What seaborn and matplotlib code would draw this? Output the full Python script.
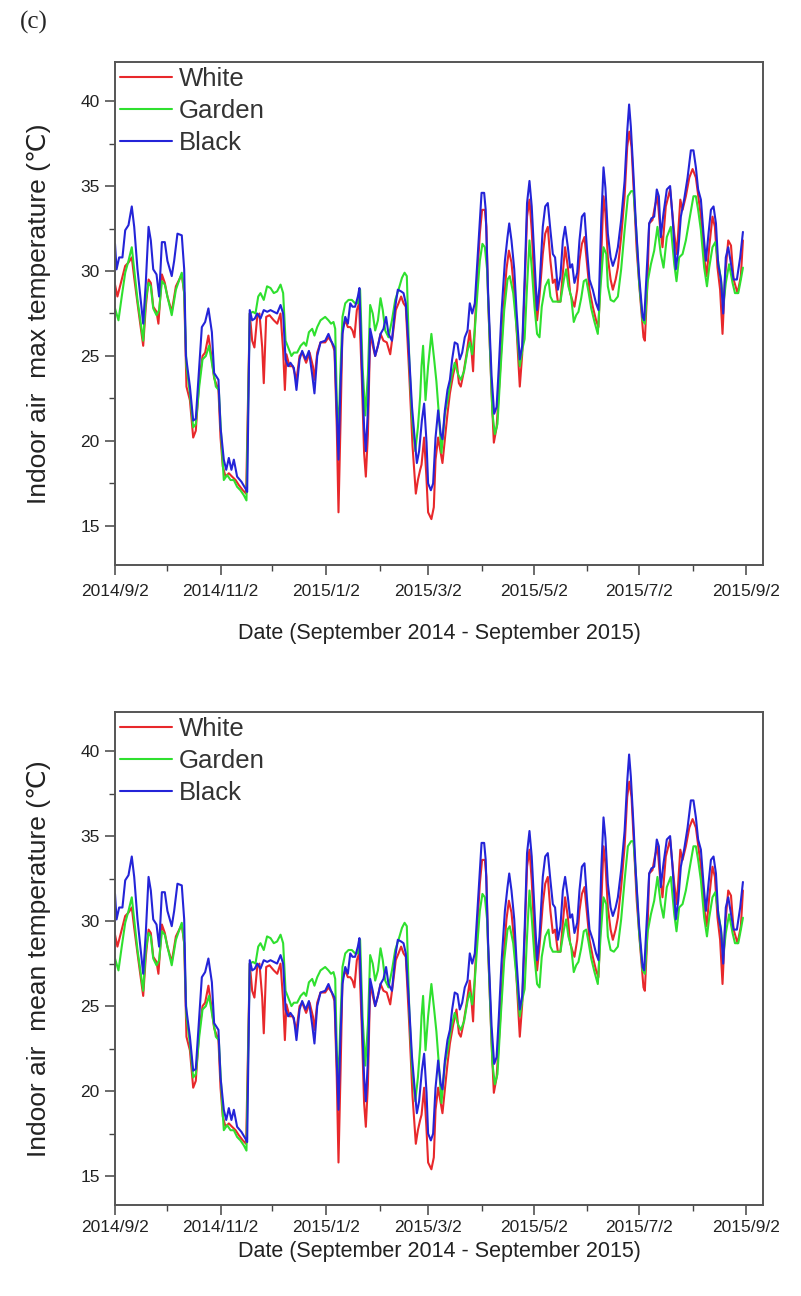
import numpy as np
import pandas as pd
import matplotlib
matplotlib.use("Agg")
import matplotlib.pyplot as plt
import seaborn as sns
from matplotlib.ticker import FixedLocator, MultipleLocator, NullFormatter

# ---------------- data ----------------
START = "2014-09-02"
series_names = ["White", "Garden", "Black"]

white_day = [0, 1.4, 3.4, 5.9, 7.8, 9.7, 11.1, 13.0, 16.3, 17.8, 19.4, 20.7, 22.1, 24.0, 25.1, 27.1, 28.8, 30.3,
             32.8, 35.2, 38.6, 40.0, 41.3, 43.3, 45.2, 46.7, 48.7, 50.6, 52.1, 54.0, 56.0, 57.3, 59.8, 61.0, 62.3,
             63.9, 65.8, 67.7, 69.7, 71.6, 73.9, 75.8, 77.9, 79.3, 80.6, 82.2, 83.5, 85.1, 86.0, 87.4, 89.3, 91.8,
             93.8, 95.7, 97.2, 98.2, 99.1, 100.9, 102.8, 104.9, 106.7, 108.2, 110.5, 112.5, 114.4, 115.3, 116.9,
             118.8, 121.5, 123.4, 125.3, 126.9, 128.2, 129.2, 130.4, 131.5, 133.1, 134.6, 136.0, 137.3, 138.4,
             139.8, 141.1, 142.7, 144.0, 145.0, 146.2, 147.5, 149.0, 150.4, 152.0, 153.5, 155.2, 157.1, 159.1,
             160.9, 162.3, 163.9, 165.4, 166.8, 168.1, 170.1, 172.0, 173.9, 175.1, 176.4, 177.2, 178.7, 180.0,
             181.0, 182.9, 184.3, 185.3, 186.8, 188.3, 189.3, 190.7, 192.2, 193.6, 195.5, 197.4, 198.8, 199.9,
             201.3, 203.2, 205.1, 206.1, 207.0, 208.0, 209.5, 210.9, 212.2, 213.8, 214.7, 215.7, 217.7, 219.0,
             220.6, 222.5, 224.4, 226.3, 227.7, 229.2, 231.2, 233.1, 234.0, 235.4, 237.0, 238.2, 239.6, 240.9,
             242.5, 244.0, 245.4, 247.3, 248.7, 250.2, 251.7, 253.1, 254.4, 256.0, 257.5, 258.9, 260.2, 261.8,
             263.1, 264.3, 265.6, 267.2, 268.5, 269.9, 271.4, 272.9, 274.3, 276.2, 278.1, 279.5, 281.1, 282.4,
             283.5, 284.9, 286.5, 287.8, 289.4, 290.7, 292.6, 294.6, 296.1, 297.3, 298.6, 300.1, 301.6, 303.6,
             305.5, 306.3, 307.8, 308.8, 310.7, 312.1, 313.6, 314.9, 316.5, 318.4, 320.9, 323.3, 324.8, 326.8,
             328.1, 330.0, 332.0, 333.9, 335.8, 337.2, 338.7, 340.6, 342.0, 343.5, 345.4, 346.8, 348.3, 349.8,
             351.2, 352.7, 354.5, 356.1, 357.6, 359.9, 361.8, 363.0]
white_temp = [29.2, 28.5, 29.3, 30.3, 30.5, 30.8, 29.6, 28.1, 25.6, 27.9, 29.5, 29.3, 27.9, 27.6, 26.9, 29.8, 29.3, 28.5,
              27.6, 29.1, 29.8, 28.7, 23.2, 22.4, 20.2, 20.6, 23.6, 25.0, 25.2, 26.2, 24.8, 23.7, 23.0, 20.2, 18.5,
              17.9, 18.1, 17.9, 17.7, 17.4, 17.1, 16.9, 27.5, 25.9, 25.5, 27.3, 27.5, 25.5, 23.4, 27.3, 27.4, 27.1,
              26.9, 27.5, 25.3, 23.0, 25.1, 24.4, 24.4, 23.6, 25.0, 25.2, 24.6, 25.2, 24.4, 23.6, 25.2,
              25.8, 25.8, 26.1, 25.8, 25.3, 20.8, 15.8, 21.2, 26.6, 27.1, 26.7, 26.7, 26.5, 26.1,
              27.7, 28.1, 23.6, 19.3, 17.9, 20.4, 26.3, 25.6, 25.0, 25.6, 26.3, 25.9, 25.8, 25.1,
              26.5, 27.7, 28.1, 28.5, 28.1, 27.9, 23.9, 19.7, 16.9, 17.7, 18.3, 18.6, 20.2, 17.9,
              15.8, 15.4, 16.1, 18.9, 20.2, 19.3, 18.7, 20.1, 21.6, 22.8, 23.9, 24.8, 23.4, 23.2,
              23.9, 25.1, 26.5, 25.3, 24.1, 26.7, 29.8, 32.2, 33.6, 33.6, 32.6, 28.3, 22.8, 19.9,
              20.8, 23.9, 27.5, 30.1, 31.2, 30.5, 28.3, 24.8, 23.2, 25.1, 29.5, 33.2, 34.2, 32.4,
              29.1, 27.1, 28.5, 31.0, 32.2, 32.6, 30.6, 29.3, 29.5, 28.2, 28.2, 29.9, 31.4, 30.2,
              28.7, 28.3, 27.9, 28.9, 30.6, 31.6, 32.0, 30.4, 28.9, 27.9, 27.1, 26.7, 31.0, 34.4,
              33.4, 30.8, 29.5, 28.9, 29.5, 30.2, 32.0, 34.4, 37.3, 38.2, 37.3, 34.2, 31.2, 28.5,
              26.1, 25.9, 29.3, 32.8, 33.0, 33.8, 34.4, 32.8, 31.4, 33.8, 34.8, 32.2, 31.0, 34.2,
              33.6, 34.4, 35.5, 36.0, 35.5, 34.4, 33.2, 30.8, 29.7, 31.4, 33.2, 32.6, 30.2, 28.9,
              26.3, 29.7, 31.8, 31.5, 29.5, 28.7, 29.7, 31.8]

garden_day = [0, 2.0, 3.9, 5.9, 7.8, 9.7, 11.1, 13.0, 16.3, 17.8, 19.4, 20.7, 22.1, 24.0, 25.5, 27.1, 28.8, 30.3,
              32.8, 35.2, 38.6, 40.0, 41.3, 43.3, 45.2, 46.7, 48.7, 50.6, 52.5, 54.4, 56.3, 58.3, 60.0, 61.6, 62.9,
              64.8, 66.8, 68.7, 70.6, 72.5, 74.5, 76.0, 77.9, 79.7, 81.2, 82.8, 84.1, 86.0, 87.9, 89.9, 91.8, 93.7,
              95.7, 97.2, 98.6, 100.1, 102.0, 103.4, 105.3, 107.3, 109.2, 110.5, 112.1, 114.0, 115.3, 116.9, 118.8,
              121.5, 123.4, 124.9, 126.3, 127.3, 128.2, 129.2, 130.2, 131.5, 133.1, 135.0, 136.9, 138.8, 140.4,
              141.7, 143.1, 144.7, 146.2, 147.5, 149.0, 150.4, 152.0, 153.5, 154.8, 156.2, 158.1, 160.1, 162.0,
              163.9, 165.9, 167.4, 168.7, 170.1, 171.6, 173.6, 175.1, 176.4, 177.2, 178.1, 179.5, 181.0, 182.9,
              184.5, 185.8, 187.2, 188.7, 190.7, 192.6, 194.5, 196.4, 198.4, 199.9, 201.8, 203.8, 205.1, 206.5,
              208.0, 209.5, 210.9, 212.4, 213.8, 215.1, 216.7, 218.2, 219.6, 221.1, 223.0, 225.0, 226.9, 228.2,
              230.2, 232.1, 234.0, 235.9, 236.8, 238.2, 239.6, 240.9, 242.5, 244.0, 245.4, 246.7, 248.7, 250.6,
              251.7, 253.1, 256.0, 257.5, 259.5, 260.8, 262.1, 263.7, 265.2, 266.6, 267.9, 269.5, 271.0, 272.4,
              273.7, 275.3, 277.2, 279.1, 280.7, 282.4, 284.0, 284.9, 286.5, 288.4, 290.7, 292.6, 294.6, 296.5,
              298.4, 299.7, 301.1, 303.0, 305.0, 306.3, 307.8, 309.8, 311.7, 313.6, 315.5, 317.1, 319.0, 321.3,
              323.3, 324.6, 326.1, 328.1, 330.0, 332.0, 334.4, 335.8, 337.1, 338.7, 340.6, 342.2, 343.5, 345.4,
              347.0, 348.3, 350.3, 351.8, 353.1, 355.0, 357.0, 358.4, 360.3, 361.8, 363.0]
garden_temp = [27.8, 27.1, 28.5, 29.9, 30.6, 31.4, 30.1, 28.3, 25.9, 28.3, 29.3, 29.1, 27.8, 27.4, 27.7, 29.4, 29.2, 28.5,
               27.4, 28.9, 29.9, 28.7, 24.4, 22.8, 20.8, 21.0, 23.2, 24.8, 25.0, 25.6, 24.4, 23.2, 23.0, 19.9, 17.7,
               18.0, 17.7, 17.7, 17.3, 17.1, 16.8, 16.5, 27.5, 27.6, 27.5, 28.5, 28.7, 28.3, 29.1, 29.0, 28.7, 28.8,
               29.2, 28.7, 25.9, 25.5, 25.0, 25.2, 25.2, 25.6, 25.8, 25.6, 26.4, 26.6, 26.2, 26.7, 27.1,
               27.3, 27.1, 26.9, 27.0, 26.6, 22.4, 20.4, 23.8, 27.3, 28.1, 28.3, 28.3, 28.1, 28.1,
               28.9, 24.4, 21.5, 23.9, 28.0, 27.5, 26.5, 27.1, 28.4, 27.7, 26.5, 26.1, 27.1, 28.3,
               28.9, 29.6, 29.9, 29.7, 24.8, 21.5, 19.4, 20.8, 22.6, 24.4, 25.6, 22.4, 24.4, 26.3,
               24.8, 23.5, 21.6, 19.3, 21.6, 22.6, 23.8, 24.6, 23.9, 23.6, 24.1, 25.3, 25.8, 25.1,
               26.5, 28.7, 30.6, 31.6, 31.4, 30.1, 25.6, 21.6, 20.4, 21.0, 24.4, 27.7, 29.5, 29.7,
               28.7, 26.7, 24.4, 25.6, 26.0, 29.1, 31.8, 30.2, 27.9, 26.3, 26.1, 27.9, 29.1, 29.5,
               28.5, 28.2, 28.2, 28.2, 29.5, 30.1, 29.1, 28.5, 27.0, 27.4, 27.6, 28.4, 29.4, 29.5,
               28.8, 27.8, 27.0, 26.3, 29.1, 31.4, 31.0, 29.1, 28.3, 28.2, 28.5, 30.1, 32.4, 34.4,
               34.7, 34.7, 32.8, 29.3, 27.1, 26.9, 29.3, 30.4, 31.2, 32.6, 31.0, 30.2, 32.0, 32.6,
               30.4, 29.4, 30.8, 31.0, 31.8, 33.0, 34.4, 34.4, 33.6, 32.4, 30.2, 29.1, 30.2, 31.4,
               31.7, 30.8, 29.5, 28.1, 29.3, 30.4, 29.3, 28.7, 28.7, 29.5, 30.2]

black_day = [0, 0.9, 2.4, 4.3, 5.9, 7.8, 9.7, 11.1, 13.0, 16.3, 17.8, 19.4, 20.7, 22.1, 24.0, 25.5, 27.1, 28.8, 30.3,
             32.8, 34.2, 36.1, 38.6, 40.0, 41.0, 43.3, 45.2, 46.7, 48.3, 50.2, 52.1, 54.0, 56.0, 57.3, 59.8, 61.0,
             62.9, 64.3, 65.8, 67.3, 68.7, 70.6, 73.1, 75.4, 76.4, 77.9, 79.3, 80.8, 82.2, 84.1, 86.0, 88.0, 89.9,
             91.8, 93.7, 95.7, 97.2, 98.6, 100.1, 101.4, 103.4, 104.9, 106.7, 108.2, 110.2, 112.1, 114.0, 115.3,
             116.9, 118.8, 121.5, 123.4, 124.9, 126.9, 128.2, 129.2, 130.2, 131.5, 133.1, 134.6, 136.0, 137.3,
             138.8, 140.4, 141.3, 142.7, 144.0, 145.0, 146.2, 147.5, 149.0, 150.4, 152.0, 153.5, 155.2, 156.7,
             158.1, 160.1, 162.0, 163.5, 165.4, 166.8, 168.1, 169.7, 171.7, 173.6, 174.5, 175.8, 177.4, 178.7,
             180.1, 181.0, 182.6, 183.9, 185.3, 186.8, 188.3, 189.3, 190.7, 192.2, 193.6, 194.9, 196.4, 198.0,
             199.3, 200.7, 202.2, 203.8, 205.1, 206.5, 208.0, 209.5, 210.9, 211.9, 213.4, 214.3, 215.7, 217.7,
             219.2, 220.6, 221.9, 223.4, 225.4, 226.9, 227.9, 229.2, 230.8, 232.1, 234.0, 235.4, 236.9, 238.2,
             239.6, 240.9, 242.5, 244.0, 245.4, 247.3, 248.7, 250.2, 251.7, 253.1, 254.4, 256.0, 257.5, 258.9,
             260.2, 261.8, 263.1, 264.3, 265.6, 267.2, 268.5, 269.9, 271.4, 272.9, 274.3, 276.2, 278.1, 279.5,
             281.1, 282.4, 283.5, 284.9, 286.5, 287.8, 289.4, 290.7, 292.6, 294.6, 296.1, 297.2, 298.2, 299.7,
             301.1, 303.0, 305.0, 305.9, 307.4, 308.8, 310.1, 311.7, 313.2, 314.4, 315.5, 317.1, 319.0, 320.9,
             322.3, 324.2, 325.6, 327.1, 329.0, 331.0, 332.9, 334.4, 335.8, 337.1, 338.7, 340.2, 341.6, 343.1,
             344.5, 346.0, 347.4, 348.7, 350.3, 351.6, 353.1, 354.5, 356.1, 357.6, 359.5, 361.4, 363.0]
black_temp = [31.6, 30.1, 30.8, 30.8, 32.4, 32.7, 33.8, 32.6, 30.1, 26.9, 29.3, 32.6, 31.8, 30.1, 29.8, 28.5, 31.7, 31.7, 30.6,
              29.7, 30.6, 32.2, 32.1, 30.1, 25.0, 23.2, 21.2, 21.3, 23.8, 26.7, 27.0, 27.8, 26.4, 24.0, 23.6, 20.8,
              18.9, 18.3, 19.0, 18.3, 18.9, 17.9, 17.6, 17.2, 17.0, 27.7, 27.1, 27.2, 27.5, 27.2, 27.7, 27.6, 27.7,
              27.6, 27.5, 28.0, 27.5, 24.8, 24.4, 24.6, 24.3, 23.0, 24.8, 25.3, 24.8, 25.3, 23.9, 22.8,
              25.0, 25.8, 25.9, 26.3, 25.9, 25.5, 21.8, 18.9, 22.8, 26.3, 27.3, 26.9, 28.1, 27.9,
              27.9, 28.5, 29.0, 24.4, 20.8, 19.4, 21.8, 26.6, 25.9, 25.0, 25.6, 26.3, 26.6, 27.3,
              26.3, 25.9, 27.9, 28.9, 28.8, 28.7, 28.1, 25.6, 22.0, 19.7, 18.7, 19.4, 21.2, 22.2,
              19.9, 17.5, 17.1, 17.5, 20.2, 21.8, 20.4, 20.1, 21.8, 23.0, 23.6, 24.8, 25.8, 25.7,
              24.8, 25.2, 26.1, 26.5, 28.1, 27.5, 28.1, 30.6, 33.0, 34.6, 34.6, 33.6, 28.7, 23.8,
              21.6, 22.0, 24.4, 27.5, 30.6, 32.0, 32.8, 31.8, 30.1, 27.7, 24.8, 25.6, 29.8, 34.0,
              35.3, 33.8, 30.6, 27.7, 29.1, 32.6, 33.8, 34.0, 32.4, 31.0, 30.8, 28.9, 29.7, 31.8,
              32.6, 31.4, 30.2, 30.4, 29.3, 29.9, 31.8, 33.2, 33.4, 31.2, 29.5, 28.9, 28.1, 27.7,
              33.0, 36.1, 34.9, 32.2, 30.8, 30.3, 30.8, 31.4, 33.0, 35.3, 38.2, 39.8, 38.5, 35.7,
              32.8, 29.7, 27.3, 27.1, 30.1, 32.8, 33.1, 33.2, 34.8, 34.4, 32.0, 33.4, 34.8, 35.0,
              33.2, 30.1, 31.2, 33.2, 34.2, 35.5, 37.1, 37.1, 36.1, 34.8, 34.2, 32.2, 30.6, 32.2,
              33.6, 33.8, 32.8, 30.4, 29.5, 27.5, 30.8, 31.4, 30.4, 29.5, 29.5, 30.8, 32.3]

major_tick_labels = ["2014/9/2", "2014/11/2", "2015/1/2", "2015/3/2", "2015/5/2", "2015/7/2", "2015/9/2"]
major_tick_dates = ["2014-09-02", "2014-11-02", "2015-01-02", "2015-03-02", "2015-05-02", "2015-07-02", "2015-09-02"]
minor_tick_dates = ["2014-10-02", "2014-12-02", "2015-02-02", "2015-04-02", "2015-06-02", "2015-08-02"]
y_labels = ["Indoor air  max temperature (\u2103)", "Indoor air  mean temperature (\u2103)"]
x_label = "Date (September 2014 - September 2015)"
colors = ["#e8282b", "#2fe02f", "#2424d8"]

# ---------------- build long table ----------------
t0 = pd.Timestamp(START)
frames = []
for name, d, v in [("White", white_day, white_temp), ("Garden", garden_day, garden_temp),
                   ("Black", black_day, black_temp)]:
    assert len(d) == len(v), name
    frames.append(pd.DataFrame({"date": t0 + pd.to_timedelta(np.array(d), unit="D"),
                                "temp": v, "series": name}))
df = pd.concat(frames, ignore_index=True)

# ---------------- figure ----------------
sns.set_style("ticks")
plt.rcParams["font.family"] = ["Liberation Sans", "DejaVu Sans"]
W, H = 801, 1296
fig = plt.figure(figsize=(W / 100, H / 100), dpi=100)

ax_left, ax_right = 115, 763
# (top, bottom, ylim_low, tick-label pad, xlabel y in axes coords)
panels = [(62, 565, 12.7, 7, -0.115), (712, 1205, 13.3, 4, -0.073)]
tick_pos = pd.to_datetime(major_tick_dates)
minor_pos = pd.to_datetime(minor_tick_dates)

for (top, bot, ylow, xpad, xly), ylab in zip(panels, y_labels):
    ax = fig.add_axes([ax_left / W, 1 - bot / H, (ax_right - ax_left) / W, (bot - top) / H])
    sns.lineplot(data=df, x="date", y="temp", hue="series", hue_order=series_names,
                 palette=colors, estimator=None, sort=False, linewidth=1.5, legend=False, ax=ax)
    ax.set_xlim(t0, t0 + pd.Timedelta(days=374.6))
    ax.set_ylim(ylow, 42.3)
    ax.xaxis.set_major_locator(FixedLocator(matplotlib.dates.date2num(tick_pos)))
    ax.xaxis.set_minor_locator(FixedLocator(matplotlib.dates.date2num(minor_pos)))
    ax.set_xticklabels(major_tick_labels)
    ax.xaxis.set_minor_formatter(NullFormatter())
    ax.yaxis.set_major_locator(MultipleLocator(5))
    ax.yaxis.set_minor_locator(MultipleLocator(2.5))
    ax.tick_params(axis="both", which="major", direction="out", length=7, width=1.1,
                   labelsize=12.5, colors="#444444", labelcolor="#222222", pad=4)
    ax.tick_params(axis="x", which="major", pad=xpad)
    ax.tick_params(axis="both", which="minor", direction="out", length=4, width=1.0, colors="#444444")
    ax.tick_params(top=False, right=False, which="both")
    for s in ax.spines.values():
        s.set_visible(True)
        s.set_linewidth(1.4)
        s.set_color("#555555")
    ax.set_xlabel(x_label, fontsize=15.5, color="#222222")
    ax.xaxis.set_label_coords(0.5, xly)
    ax.set_ylabel(ylab, fontsize=19, color="#222222")
    ax.yaxis.set_label_coords(-0.098, 0.5)
    leg = ax.legend(handles=ax.lines[:3], labels=series_names, loc="upper left",
                    bbox_to_anchor=(0.0, 1.0), frameon=False, fontsize=18.5,
                    handlelength=2.0, handletextpad=0.3, labelspacing=0.3,
                    borderpad=0.05, borderaxespad=0.15)
    for t in leg.get_texts():
        t.set_color("#333333")

fig.text(20 / W, 1 - 22 / H, "(c)", fontsize=18, family="Liberation Serif", va="center", ha="left")

fig.savefig("out.png", dpi=100)
